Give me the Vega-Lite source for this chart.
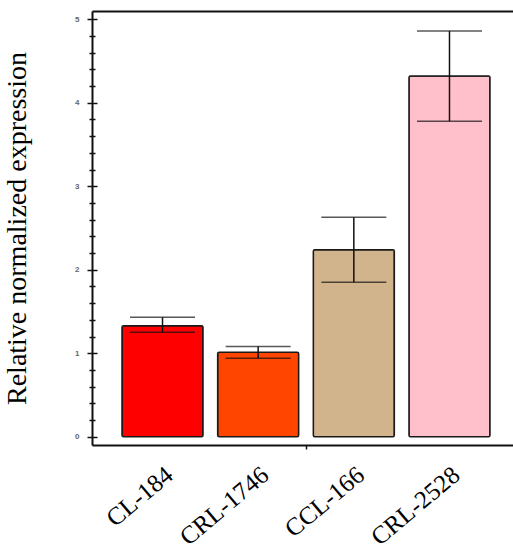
{
  "$schema": "https://vega.github.io/schema/vega-lite/v6.json",
  "width": 421,
  "height": 434,
  "autosize": {"type": "none"},
  "padding": {"left": 92, "top": 11, "right": 0, "bottom": 105},
  "background": "white",
  "config": {"view": {"stroke": null}, "axis": {"grid": false}},
  "data": {
    "values": [
      {"line": "CL-184", "value": 1.33, "lower": 1.25, "upper": 1.43},
      {"line": "CRL-1746", "value": 1.01, "lower": 0.94, "upper": 1.08},
      {"line": "CCL-166", "value": 2.24, "lower": 1.85, "upper": 2.63},
      {"line": "CRL-2528", "value": 4.32, "lower": 3.78, "upper": 4.86}
    ]
  },
  "resolve": {"axis": {"x": "independent", "y": "independent"}},
  "layer": [
    {
      "mark": {"type": "bar", "stroke": "#1a1a1a", "strokeWidth": 1.5, "cornerRadius": 1.5},
      "encoding": {
        "x": {
          "field": "line", "type": "nominal", "sort": null,
          "scale": {"paddingInner": 0.153, "paddingOuter": 0.277, "align": 0.566},
          "axis": {
            "orient": "bottom", "title": null, "ticks": false,
            "domainColor": "#111", "domainWidth": 2,
            "labelAngle": -40, "labelAlign": "right", "labelBaseline": "middle",
            "labelFont": "Liberation Serif", "labelFontSize": 25, "labelColor": "black",
            "labelPadding": 26, "labelOffset": 7
          }
        },
        "y": {
          "field": "value", "type": "quantitative",
          "scale": {"domain": [-0.1, 5.1], "nice": false, "zero": false},
          "axis": {
            "orient": "left",
            "title": "Relative normalized expression",
            "titleFont": "Liberation Serif", "titleFontSize": 28, "titleFontWeight": "normal",
            "titleColor": "black", "titlePadding": 43,
            "values": [0, 0.2, 0.4, 0.6, 0.8, 1, 1.2, 1.4, 1.6, 1.8, 2, 2.2, 2.4, 2.6, 2.8, 3, 3.2, 3.4, 3.6, 3.8, 4, 4.2, 4.4, 4.6, 4.8, 5],
            "labelExpr": "datum.value % 1 === 0 ? format(datum.value, 'd') : ''",
            "labelFont": "Liberation Sans", "labelFontSize": 8, "labelFontWeight": "bold", "labelColor": "#666",
            "labelPadding": 8,
            "domainColor": "#111", "domainWidth": 2,
            "tickColor": "#111", "tickWidth": 1.5,
            "tickSize": {"condition": {"test": "datum.value % 1 === 0", "value": 5}, "value": 3}
          }
        },
        "color": {
          "field": "line", "type": "nominal", "legend": null,
          "scale": {"domain": ["CL-184", "CRL-1746", "CCL-166", "CRL-2528"], "range": ["#ff0000", "#ff4500", "#d2b48c", "#ffc0cb"]}
        }
      }
    },
    {
      "mark": {"type": "rule", "color": "#111", "strokeWidth": 1.5},
      "encoding": {
        "x": {
          "field": "line", "type": "nominal", "sort": null,
          "axis": {"orient": "top", "title": null, "labels": false, "ticks": false, "domainColor": "#111", "domainWidth": 2}
        },
        "y": {
          "field": "lower", "type": "quantitative",
          "axis": {
            "orient": "left", "title": null, "labels": false, "domain": false,
            "values": [0, 0.2, 0.4, 0.6, 0.8, 1, 1.2, 1.4, 1.6, 1.8, 2, 2.2, 2.4, 2.6, 2.8, 3, 3.2, 3.4, 3.6, 3.8, 4, 4.2, 4.4, 4.6, 4.8, 5],
            "tickColor": "#111", "tickWidth": 1.5,
            "tickSize": {"condition": {"test": "datum.value % 1 === 0", "value": -5}, "value": -3}
          }
        },
        "y2": {"field": "upper"}
      }
    },
    {
      "mark": {"type": "tick", "color": "#111", "thickness": 1.5, "size": 65, "orient": "horizontal"},
      "encoding": {
        "x": {
          "field": "line", "type": "nominal", "sort": null,
          "axis": {
            "orient": "bottom", "title": null, "labels": false, "domain": false,
            "values": ["CCL-166"], "bandPosition": 0, "tickOffset": -7,
            "tickColor": "#111", "tickWidth": 1.5, "tickSize": 4
          }
        },
        "y": {"field": "lower", "type": "quantitative", "axis": null}
      }
    },
    {
      "mark": {"type": "tick", "color": "#111", "thickness": 1.5, "size": 65, "orient": "horizontal"},
      "encoding": {
        "x": {"field": "line", "type": "nominal", "sort": null, "axis": null},
        "y": {"field": "upper", "type": "quantitative", "axis": null}
      }
    }
  ]
}
